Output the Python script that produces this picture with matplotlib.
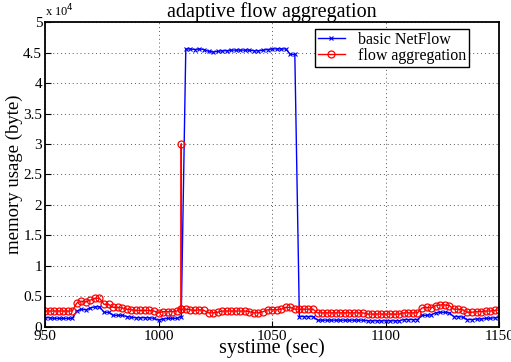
import numpy as np
import matplotlib
matplotlib.use('Agg')
import matplotlib.pyplot as plt
from matplotlib.ticker import FuncFormatter

plt.rcParams['font.family'] = ['Liberation Serif', 'DejaVu Serif']

# tempo (s), amostras a cada 2 s
tempo = np.arange(950, 1151, 2)

# memoria em unidades de 1e4 bytes
basic_netflow = [
    0.15, 0.15, 0.14, 0.14, 0.14, 0.14, 0.14,
    0.26, 0.29, 0.28, 0.31, 0.33, 0.33, 0.24, 0.24,
    0.19, 0.19, 0.19, 0.17, 0.16, 0.15, 0.15, 0.15, 0.15, 0.14,
    0.11, 0.13, 0.14, 0.14, 0.14, 0.17,
    4.56, 4.56, 4.55, 4.56, 4.55, 4.52, 4.51, 4.52, 4.53, 4.53, 4.54, 4.54, 4.54,
    4.54, 4.54, 4.53, 4.53, 4.54, 4.55, 4.56, 4.56, 4.56, 4.56, 4.47, 4.47,
    0.17, 0.17, 0.17, 0.17,
    0.11, 0.11, 0.11, 0.11, 0.11, 0.11, 0.11, 0.11, 0.11, 0.11, 0.11,
    0.10, 0.10, 0.10, 0.10, 0.10, 0.10, 0.10, 0.10,
    0.12, 0.12, 0.12, 0.12,
    0.19, 0.19, 0.20, 0.23, 0.24, 0.24, 0.23,
    0.17, 0.17, 0.16, 0.12, 0.12, 0.13, 0.13, 0.14, 0.14, 0.15, 0.16,
]

flow_aggregation = [
    0.26, 0.26, 0.26, 0.26, 0.26, 0.26, 0.26,
    0.39, 0.42, 0.41, 0.44, 0.47, 0.47, 0.37, 0.37,
    0.32, 0.32, 0.31, 0.29, 0.28, 0.27, 0.27, 0.27, 0.27, 0.26,
    0.23, 0.25, 0.25, 0.25, 0.26, 0.29,
    0.29, 0.28, 0.27, 0.28, 0.27, 0.23, 0.23, 0.24, 0.26, 0.26, 0.26, 0.26, 0.26,
    0.26, 0.25, 0.23, 0.23, 0.25,
    0.28, 0.28, 0.28, 0.29, 0.32, 0.32, 0.29,
    0.29, 0.29, 0.29, 0.29,
    0.23, 0.23, 0.23, 0.23, 0.23, 0.23, 0.23, 0.23, 0.23, 0.23, 0.23,
    0.21, 0.21, 0.21, 0.21, 0.21, 0.21, 0.21, 0.21,
    0.23, 0.23, 0.23, 0.23,
    0.31, 0.32, 0.31, 0.35, 0.36, 0.36, 0.35,
    0.29, 0.29, 0.28, 0.24, 0.24, 0.25, 0.25, 0.26, 0.26, 0.27, 0.28,
]

# pico da agregacao em t = 1010
pico_tempo = 1010
pico_valor = 3.0

escala = 1e4
blue = np.array(basic_netflow) * escala
red = np.array(flow_aggregation) * escala

# insere o pico (sobe e desce no mesmo instante)
i = list(tempo).index(pico_tempo)
t_red = np.insert(tempo.astype(float), i + 1, [pico_tempo, pico_tempo])
red = np.insert(red, i + 1, [pico_valor * escala, red[i]])

fig = plt.figure(figsize=(5.11, 3.62), dpi=100)
ax = fig.add_axes([0.088, 0.097, 0.889, 0.842])

ax.plot(tempo, blue, color='blue', marker='x', markersize=3, linewidth=1,
        markeredgewidth=0.8, label='basic NetFlow')
ax.plot(t_red, red, color='red', marker='o', markersize=5, linewidth=1,
        markerfacecolor='none', markeredgewidth=0.9, label='flow aggregation')

ax.set_xlim(950, 1150)
ax.set_ylim(0, 5e4)
ax.set_xticks([950, 1000, 1050, 1100, 1150])
ax.set_yticks(np.arange(0, 5.01, 0.5) * escala)
ax.yaxis.set_major_formatter(FuncFormatter(lambda v, p: '%g' % (v / escala)))
ax.grid(True, linestyle=(0, (1, 3)), color='0.35', linewidth=0.7)
ax.tick_params(direction='in', labelsize=11, length=4, pad=2)
for s in ax.spines.values():
    s.set_linewidth(1.3)

ax.set_title('adaptive flow aggregation', fontsize=14.5, pad=2)
ax.set_xlabel('systime (sec)', fontsize=14.5, labelpad=-3)
ax.set_ylabel('memory usage (byte)', fontsize=13.5, labelpad=0)
ax.text(0.0, 1.01, r'x 10$^4$', transform=ax.transAxes, fontsize=9,
        ha='left', va='bottom')

leg = ax.legend(loc='upper right', bbox_to_anchor=(0.934, 0.978), fontsize=11.5,
                fancybox=False, framealpha=1, edgecolor='black',
                borderpad=0.2, labelspacing=0.0, handlelength=1.7,
                handletextpad=0.8, borderaxespad=0)
leg.get_frame().set_linewidth(1)

fig.savefig('out.png', dpi=100)
